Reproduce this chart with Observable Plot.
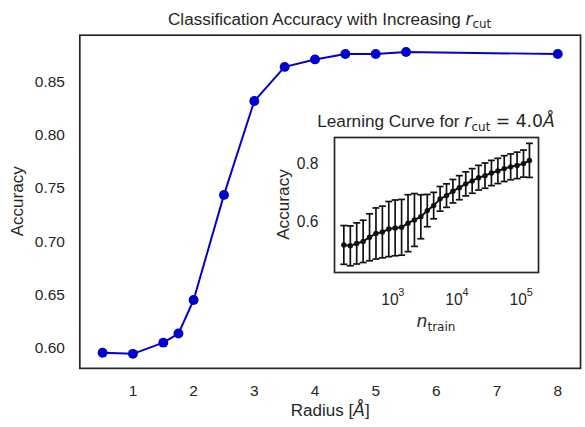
<!DOCTYPE html>
<html><head><meta charset="utf-8">
<script src="https://cdn.jsdelivr.net/npm/d3@7"></script>
<script src="https://cdn.jsdelivr.net/npm/@observablehq/plot@0.6"></script>
<style>
body{margin:0;background:#fff;}
#wrap{position:relative;width:585px;height:427px;overflow:hidden;background:#fff;}
#wrap svg{position:absolute;overflow:visible;background:transparent;}
</style></head><body><div id="wrap"></div>
<script>
// ---- main chart data
const radius = [0.5, 1, 1.5, 1.75, 2, 2.5, 3, 3.5, 4, 4.5, 5, 5.5, 8];
const accuracy = [0.596, 0.595, 0.6055, 0.614, 0.6455, 0.744, 0.832, 0.864, 0.871, 0.876, 0.876, 0.878, 0.876];
const radiusTicks = [1, 2, 3, 4, 5, 6, 7, 8];
const accuracyTicks = [0.60, 0.65, 0.70, 0.75, 0.80, 0.85];
// ---- inset learning-curve data
const nTrain = [172, 217, 273, 344, 433, 545, 686, 863, 1086, 1368, 1722, 2168, 2729, 3436, 4325,
  5445, 6855, 8630, 10864, 13677, 17219, 21677, 27290, 34356, 43251, 54450, 68549, 86298, 108643, 134500];
const lcAccuracy = [0.523, 0.520, 0.528, 0.535, 0.549, 0.562, 0.567, 0.577, 0.581, 0.583, 0.597, 0.608,
  0.619, 0.640, 0.657, 0.680, 0.691, 0.706, 0.718, 0.731, 0.741, 0.752, 0.759, 0.768, 0.775, 0.783,
  0.789, 0.794, 0.800, 0.811];
const lcError = [0.066, 0.068, 0.070, 0.072, 0.080, 0.087, 0.088, 0.094, 0.095, 0.095, 0.097, 0.090,
  0.075, 0.055, 0.045, 0.042, 0.040, 0.040, 0.041, 0.041, 0.042, 0.042, 0.043, 0.043, 0.043, 0.044,
  0.044, 0.045, 0.046, 0.058];
const lcYTicks = [0.6, 0.8];
const lcXTicks = [1e3, 1e4, 1e5];

const font = '"Liberation Sans", Arial, sans-serif';
const mathFont = '"DejaVu Sans", sans-serif';
const ink = "#262626";
const blue = "mediumblue";
const dark = "#111";
const labelSize = 17.2;
const tickSize = 15.6;

const mainData = radius.map((r, i) => ({r, a: accuracy[i]}));
const lcData = nTrain.map((n, i) => ({n, a: lcAccuracy[i], e: lcError[i]}));

const wrap = document.getElementById("wrap");

// ---- main plot
const main = Plot.plot({
  width: 590, height: 427,
  marginLeft: 80, marginRight: 5, marginTop: 35, marginBottom: 56,
  style: {fontFamily: font, fontSize: tickSize + "px", color: ink, background: "transparent"},
  x: {domain: [0.125, 8.375]},
  y: {domain: [0.5814, 0.8937]},
  marks: [
    Plot.frame({stroke: ink, strokeWidth: 1.7}),
    Plot.axisX({ticks: radiusTicks, tickSize: 0, tickPadding: 17, label: null, fontSize: tickSize, tickFormat: d => String(d)}),
    Plot.axisY({ticks: accuracyTicks, tickSize: 0, tickPadding: 15, label: null, fontSize: tickSize, tickFormat: d3.format(".2f")}),
    Plot.line(mainData, {x: "r", y: "a", stroke: blue, strokeWidth: 2}),
    Plot.dot(mainData, {x: "r", y: "a", r: 5, fill: blue})
  ]
});
main.style.left = "0px"; main.style.top = "0px";
wrap.appendChild(main);

// titles / labels for main
const ms = d3.select(main);
const t1 = ms.append("text").attr("x", 332.5).attr("y", 25).attr("text-anchor", "middle")
  .attr("font-family", font).attr("font-size", labelSize).attr("fill", ink);
t1.append("tspan").text("Classification Accuracy with Increasing ");
t1.append("tspan").attr("font-family", mathFont).attr("font-style", "italic").text("r");
t1.append("tspan").attr("font-family", mathFont).attr("font-size", 12).attr("dy", 3.5).text("cut");

const xl = ms.append("text").attr("x", 333).attr("y", 420).attr("text-anchor", "middle")
  .attr("font-family", font).attr("font-size", labelSize).attr("fill", ink);
xl.append("tspan").text("Radius [");
xl.append("tspan").attr("font-family", mathFont).attr("font-style", "italic").text("Å");
xl.append("tspan").text("]");

ms.append("text").attr("transform", "translate(23,203) rotate(-90)").attr("text-anchor", "middle")
  .attr("font-family", font).attr("font-size", labelSize).attr("fill", ink).text("Accuracy");

// ---- inset
const capSymbol = {draw(ctx, size) { const w = Math.sqrt(size / Math.PI); ctx.moveTo(-w, 0); ctx.lineTo(w, 0); }};
const inset = Plot.plot({
  width: 284, height: 245,
  marginLeft: 60, marginRight: 20, marginTop: 40, marginBottom: 70,
  style: {fontFamily: font, fontSize: tickSize + "px", color: ink, background: "transparent"},
  x: {type: "log", domain: [Math.pow(10, 2.09), Math.pow(10, 5.27)], axis: null},
  y: {domain: [0.429, 0.889], axis: null},
  marks: [
    Plot.frame({fill: "white", stroke: ink, strokeWidth: 1.7}),
    Plot.axisY({ticks: lcYTicks, tickSize: 0, tickPadding: 16, label: null, fontSize: tickSize, tickFormat: d3.format(".1f")}),
    Plot.ruleX(lcData, {x: "n", y1: d => d.a - d.e, y2: d => d.a + d.e, stroke: dark, strokeWidth: 1.7}),
    Plot.dot(lcData, {x: "n", y: d => d.a - d.e, symbol: capSymbol, r: 3.5, stroke: dark, strokeWidth: 1.7, fill: "none"}),
    Plot.dot(lcData, {x: "n", y: d => d.a + d.e, symbol: capSymbol, r: 3.5, stroke: dark, strokeWidth: 1.7, fill: "none"}),
    Plot.line(lcData, {x: "n", y: "a", stroke: dark, strokeWidth: 2}),
    Plot.dot(lcData, {x: "n", y: "a", r: 2.7, fill: dark}),
    Plot.text(lcXTicks, {x: d => d, frameAnchor: "bottom", lineAnchor: "middle", dy: 27, dx: -3, text: () => "10", fontSize: tickSize, fill: ink}),
    Plot.text(lcXTicks, {x: d => d, frameAnchor: "bottom", lineAnchor: "middle", dy: 20, dx: 8.5, text: d => String(Math.round(Math.log10(d))), fontSize: 10.9, fill: ink})
  ]
});
inset.style.left = "274px"; inset.style.top = "97px";
wrap.appendChild(inset);

const is = d3.select(inset);
const t2 = is.append("text").attr("x", 162).attr("y", 30).attr("text-anchor", "middle")
  .attr("font-family", font).attr("font-size", labelSize).attr("fill", ink);
t2.append("tspan").text("Learning Curve for ");
t2.append("tspan").attr("font-family", mathFont).attr("font-style", "italic").text("r");
t2.append("tspan").attr("font-family", mathFont).attr("font-size", 12).attr("dy", 3.5).text("cut");
t2.append("tspan").attr("font-family", mathFont).attr("dy", -3.5).text(" = 4.0");
t2.append("tspan").attr("font-family", mathFont).attr("font-style", "italic").text("Å");

const nl = is.append("text").attr("x", 162).attr("y", 230).attr("text-anchor", "middle")
  .attr("font-family", font).attr("font-size", labelSize).attr("fill", ink);
nl.append("tspan").attr("font-family", mathFont).attr("font-style", "italic").text("n");
nl.append("tspan").attr("font-family", mathFont).attr("font-size", 12).attr("dy", 4).text("train");

is.append("text").attr("transform", "translate(15,107.5) rotate(-90)").attr("text-anchor", "middle")
  .attr("font-family", font).attr("font-size", labelSize).attr("fill", ink).text("Accuracy");
</script></body></html>
